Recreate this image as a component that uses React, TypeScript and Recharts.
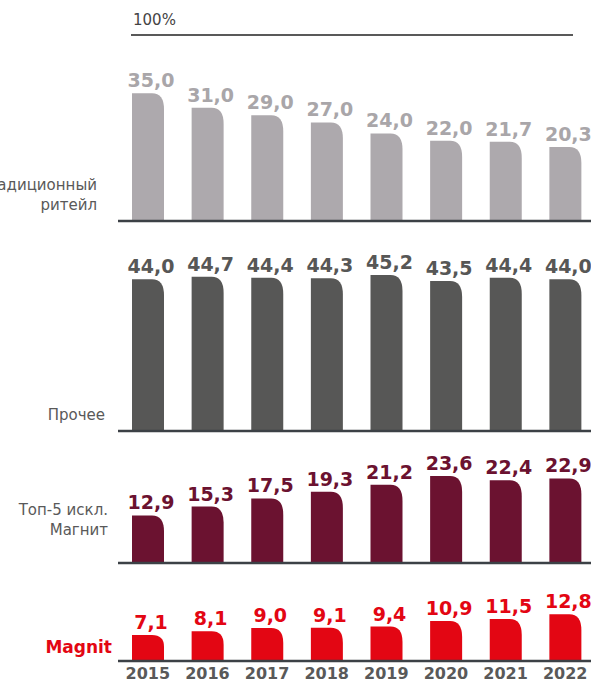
import React from "react";
import { BarChart, Bar, XAxis, YAxis, LabelList } from "recharts";

const years = ["2015", "2016", "2017", "2018", "2019", "2020", "2021", "2022"];
const traditional = [35.0, 31.0, 29.0, 27.0, 24.0, 22.0, 21.7, 20.3];
const other = [44.0, 44.7, 44.4, 44.3, 45.2, 43.5, 44.4, 44.0];
const top5 = [12.9, 15.3, 17.5, 19.3, 21.2, 23.6, 22.4, 22.9];
const magnit = [7.1, 8.1, 9.0, 9.1, 9.4, 10.9, 11.5, 12.8];

const FONT = "'DejaVu Sans', Verdana, sans-serif";
const CHART_W = 600;
const M_LEFT = 118;
const M_RIGHT = 5;

const fmt = (v: number) => v.toFixed(1).replace(".", ",");

const RoundedBar = (props: any) => {
  const { x, y, width, height, fill } = props;
  if (!height || height <= 0) return null;
  const rx = Math.min(12, width / 2);
  const ry = Math.min(16, height * 0.45);
  const d = `M${x},${y + height} L${x},${y} L${x + width - rx},${y} Q${x + width},${y} ${x + width},${y + ry} L${x + width},${y + height} Z`;
  return <path d={d} fill={fill} />;
};

type PanelProps = {
  values: number[];
  top: number;
  base: number;
  scale: number;
  barColor: string;
  labelColor: string;
  showYears?: boolean;
  totalHeight?: number;
};

const YearTick = (props: any) => {
  const { x, y, payload } = props;
  return (
    <text
      x={x}
      y={y + 18}
      textAnchor="middle"
      fontFamily={FONT}
      fontWeight="bold"
      fontSize={16}
      fill="#595959"
    >
      {payload.value}
    </text>
  );
};

const Panel = ({ values, top, base, scale, barColor, labelColor, showYears, totalHeight }: PanelProps) => {
  const plotH = base - top;
  const max = plotH / scale;
  const data = years.map((y, i) => ({ year: y, v: values[i] }));
  const h = totalHeight ?? plotH + 3;
  return (
    <div style={{ position: "absolute", left: 0, top, width: CHART_W, height: h }}>
      <BarChart
        width={CHART_W}
        height={h}
        data={data}
        margin={{ top: 0, right: M_RIGHT, left: M_LEFT, bottom: 0 }}
        barCategoryGap={0}
      >
        <XAxis
          dataKey="year"
          axisLine={{ stroke: "#3C4146", strokeWidth: 2.5 }}
          tickLine={false}
          tick={showYears ? <YearTick /> : false}
          height={h - plotH}
          interval={0}
          tickMargin={0}
          tickSize={0}
        />
        <YAxis hide domain={[0, max]} allowDataOverflow />
        <Bar dataKey="v" fill={barColor} barSize={32} shape={<RoundedBar />} isAnimationActive={false}>
          <LabelList
            dataKey="v"
            position="top"
            offset={6}
            formatter={(v: any) => fmt(Number(v))}
            style={{ fontFamily: FONT, fontWeight: "bold", fontSize: 19, fill: labelColor }}
            dx={3}
          />
        </Bar>
      </BarChart>
    </div>
  );
};

const leftLabel = (text: string, right: number, y: number, opts: any = {}) => (
  <div
    style={{
      position: "absolute",
      right: 591 - right,
      top: y,
      fontFamily: FONT,
      fontSize: 15,
      color: "#595959",
      whiteSpace: "nowrap",
      textAlign: "right",
      lineHeight: "20px",
      ...opts,
    }}
  >
    {text}
  </div>
);

export default function App() {
  return (
    <div
      style={{
        position: "absolute",
        left: 0,
        top: 0,
        width: 591,
        height: 679,
        overflow: "hidden",
        background: "#fff",
      }}
    >
      <div
        style={{
          position: "absolute",
          left: 133,
          top: 10,
          fontFamily: FONT,
          fontSize: 15,
          color: "#444",
          lineHeight: "20px",
        }}
      >
        100%
      </div>
      <div style={{ position: "absolute", left: 131, top: 34, width: 442, height: 2, background: "#595959" }} />

      <Panel values={traditional} top={40} base={221} scale={3.65} barColor="#ADA9AD" labelColor="#A9A6A9" />
      <Panel values={other} top={225} base={431} scale={3.45} barColor="#575756" labelColor="#575756" />
      <Panel values={top5} top={435} base={563} scale={3.69} barColor="#6B1230" labelColor="#6B1230" />
      <Panel
        values={magnit}
        top={567}
        base={661}
        scale={3.66}
        barColor="#E30613"
        labelColor="#E30613"
        showYears
        totalHeight={112}
      />

      {leftLabel("Традиционный", 97, 175)}
      {leftLabel("ритейл", 97, 195)}
      {leftLabel("Прочее", 105, 405)}
      {leftLabel("Топ-5 искл.", 108, 500)}
      {leftLabel("Магнит", 108, 520)}
      {leftLabel("Magnit", 112, 637, { fontWeight: "bold", fontSize: 17, color: "#E30613" })}
    </div>
  );
}
